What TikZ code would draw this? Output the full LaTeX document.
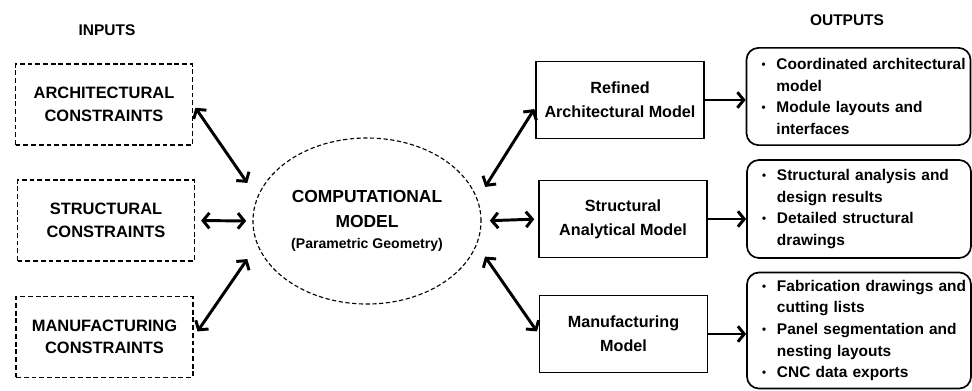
\documentclass[tikz,border=0pt]{standalone}
\usepackage{fontspec}
\setmainfont{Liberation Sans}
\usetikzlibrary{shapes.geometric,arrows.meta}
\newcommand{\outitem}[1]{\hangindent=0.65cm\hangafter=1\noindent\makebox[0.65cm][l]{\hspace{0.28cm}\raisebox{0.15ex}{\scalebox{0.75}{\textbullet}}}#1\par}

\begin{document}
\begin{tikzpicture}[x=0.025cm, y=-0.025cm,
  inbox/.style={draw, dash pattern=on 3.5pt off 2pt, line width=1pt, minimum width=4.42cm, minimum height=2.02cm, align=center, font=\fontsize{11.7}{16}\selectfont\bfseries},
  modelbox/.style={draw, line width=1pt, minimum width=4.2cm, minimum height=1.92cm, align=center, font=\fontsize{11.5}{17}\selectfont\bfseries},
  outbox/.style={draw, rounded corners=0.3cm, line width=1.2pt, text width=5.4cm, inner xsep=0.1cm, align=left, font=\fontsize{11}{15.3}\selectfont\bfseries},
  biarr/.style={line width=2.1pt, {Straight Barb[length=4.5pt,width=11pt]}-{Straight Barb[length=4.5pt,width=11pt]}},
  onearr/.style={line width=2.1pt, -{Straight Barb[length=4.5pt,width=11pt]}}]
\useasboundingbox (0,0) rectangle (972,390);%
\node[font=\fontsize{11}{13}\selectfont\bfseries] (inputs) at (107,30) {INPUTS};%
\node[font=\fontsize{11}{13}\selectfont\bfseries] (outputs) at (847,20) {OUTPUTS};%
\node[inbox] (arch) at (104,104.5) {ARCHITECTURAL\\CONSTRAINTS};%
\node[inbox] (struct) at (106,220.5) {STRUCTURAL\\CONSTRAINTS};%
\node[inbox] (manuf) at (104.5,337) {MANUFACTURING\\CONSTRAINTS};%
\node[draw, ellipse, dash pattern=on 3pt off 1.8pt, line width=0.8pt, minimum width=5.7cm, minimum height=4.15cm, inner sep=0pt, outer sep=0pt, align=center, font=\fontsize{12.4}{18}\selectfont\bfseries] (comp) at (367,221) {COMPUTATIONAL\\MODEL\\[-3pt]\fontsize{10}{14}\selectfont (Parametric Geometry)};%
\node[modelbox] (refined) at (620,100) {Refined\\Architectural Model};%
\node[modelbox] (analyt) at (623,219) {Structural\\Analytical Model};%
\node[modelbox] (manufm) at (623.5,334) {Manufacturing\\Model};%
\node[outbox, minimum height=2.43cm] (out1) at (858.5,96.5) {\outitem{Coordinated architectural\newline model}\outitem{Module layouts and\newline interfaces}};%
\node[outbox, minimum height=2.45cm] (out2) at (859,209) {\outitem{Structural analysis and\newline design results}\outitem{Detailed structural\newline drawings}};%
\node[outbox, minimum height=2.9cm] (out3) at (859,330.5) {\outitem{Fabrication drawings and\newline cutting lists}\outitem{Panel segmentation and\newline nesting layouts}\outitem{CNC data exports}};%
\draw[biarr, shorten <=0.1cm, shorten >=0.45cm] (arch.east) -- (comp.168);%
\draw[biarr, shorten <=0.15cm, shorten >=0.17cm] (struct.east) -- (comp.west);%
\draw[biarr, shorten <=0.17cm, shorten >=0.45cm] (manuf.east) -- (comp.192);%
\draw[biarr, shorten <=0.375cm, shorten >=0.05cm] (comp.11) -- (refined.185);%
\draw[biarr, shorten <=0.22cm, shorten >=0.1cm] (comp.east) -- (analyt.west);%
\draw[biarr, shorten <=0.375cm, shorten >=0.08cm] (comp.348) -- (manufm.west);%
\draw[onearr] (refined.east) -- (refined.east -| out1.west);%
\draw[onearr] (analyt.east) -- (analyt.east -| out2.west);%
\draw[onearr] (manufm.east) -- (manufm.east -| out3.west);%
\end{tikzpicture}
\end{document}
